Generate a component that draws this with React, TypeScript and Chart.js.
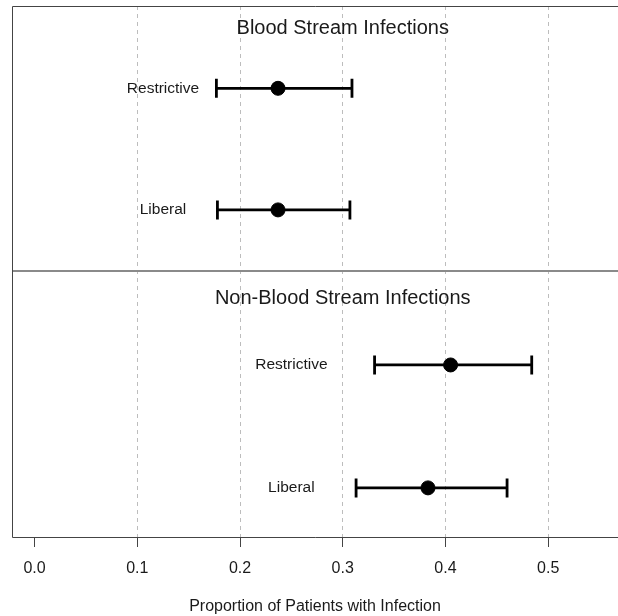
import React, { useEffect, useRef } from "react";
import { Chart, registerables } from "chart.js";

Chart.register(...registerables);

// ---- data ----
const panelTitles = ["Blood Stream Infections", "Non-Blood Stream Infections"];
const groups = ["Restrictive", "Liberal"];
const bsiMean = [0.237, 0.237];
const bsiLower = [0.177, 0.178];
const bsiUpper = [0.309, 0.307];
const nbsiMean = [0.405, 0.383];
const nbsiLower = [0.331, 0.313];
const nbsiUpper = [0.484, 0.46];
const xTicks = [0.0, 0.1, 0.2, 0.3, 0.4, 0.5];
const xTitle = "Proportion of Patients with Infection";

// ---- layout constants (not data) ----
const rowPos = [
  [0.31, 0.768],
  [0.352, 0.815],
]; // within a panel (0..1, top→bottom)
const titlePos = [0.084, 0.1];
const titleX = 0.3;
const labelX = [0.125, 0.25];
const FONT = "'Liberation Sans', Arial, Helvetica, sans-serif";

const means = [bsiMean, nbsiMean];
const lowers = [bsiLower, nbsiLower];
const uppers = [bsiUpper, nbsiUpper];

export default function App() {
  const ref = useRef<HTMLCanvasElement>(null);
  useEffect(() => {
    if (!ref.current) return;
    const points: { x: number; y: number }[] = [];
    means.forEach((m, p) =>
      m.forEach((v, g) => points.push({ x: v, y: p + rowPos[p][g] }))
    );

    const plugin = {
      id: "forest",
      beforeDatasetsDraw(chart: any) {
        const { ctx, chartArea, scales } = chart;
        const xs = scales.x;
        const ys = scales.y;
        const W = chart.width;
        ctx.save();
        // panel divider
        const yd = Math.floor(ys.getPixelForValue(1));
        ctx.strokeStyle = "#8a8a8a";
        ctx.lineWidth = 2;
        ctx.beginPath();
        ctx.moveTo(chartArea.left, yd);
        ctx.lineTo(W, yd);
        ctx.stroke();
        // frame: left, top, bottom
        ctx.strokeStyle = "#444";
        ctx.lineWidth = 1;
        ctx.beginPath();
        ctx.moveTo(W, chartArea.top + 0.5);
        ctx.lineTo(chartArea.left + 0.5, chartArea.top + 0.5);
        ctx.lineTo(chartArea.left + 0.5, chartArea.bottom + 0.5);
        ctx.lineTo(W, chartArea.bottom + 0.5);
        ctx.stroke();
        // error bars
        ctx.strokeStyle = "#000";
        ctx.lineWidth = 2.8;
        ctx.lineCap = "butt";
        means.forEach((m, p) =>
          m.forEach((_, g) => {
            const y = ys.getPixelForValue(p + rowPos[p][g]);
            const x1 = xs.getPixelForValue(lowers[p][g]);
            const x2 = xs.getPixelForValue(uppers[p][g]);
            ctx.beginPath();
            ctx.moveTo(x1, y);
            ctx.lineTo(x2, y);
            ctx.moveTo(x1, y - 9.5);
            ctx.lineTo(x1, y + 9.5);
            ctx.moveTo(x2, y - 9.5);
            ctx.lineTo(x2, y + 9.5);
            ctx.stroke();
          })
        );
        // texts
        ctx.fillStyle = "#1a1a1a";
        ctx.textAlign = "center";
        ctx.textBaseline = "middle";
        panelTitles.forEach((t, p) => {
          ctx.font = `20px ${FONT}`;
          ctx.fillText(t, xs.getPixelForValue(titleX), ys.getPixelForValue(p + titlePos[p]));
          ctx.font = `15.5px ${FONT}`;
          groups.forEach((gname, g) => {
            ctx.fillText(
              gname,
              xs.getPixelForValue(labelX[p]),
              ys.getPixelForValue(p + rowPos[p][g])
            );
          });
        });
        ctx.restore();
      },
    };

    const chart = new Chart(ref.current, {
      type: "scatter",
      data: {
        datasets: [
          {
            data: points,
            pointRadius: 7,
            pointHoverRadius: 7,
            backgroundColor: "#000",
            borderColor: "#000",
            clip: false,
          },
        ],
      },
      options: {
        animation: false,
        responsive: false,
        events: [],
        layout: { autoPadding: false, padding: { left: 12, top: 6, right: 0, bottom: 0 } },
        plugins: { legend: { display: false }, tooltip: { enabled: false } },
        scales: {
          x: {
            type: "linear",
            min: -0.022,
            max: 0.568,
            afterBuildTicks: (s: any) => {
              s.ticks = xTicks.map((v) => ({ value: v }));
            },
            afterFit: (s: any) => {
              s.height = 79;
            },
            border: { display: false, dash: [4, 4] },
            grid: {
              color: (c: any) =>
                c.tick && c.tick.value === 0 ? "rgba(0,0,0,0)" : "#bdbdbd",
              lineWidth: 1,
              tickColor: "#444",
              tickLength: 10,
              tickWidth: 1,
              tickBorderDash: [],
            },
            ticks: {
              color: "#1a1a1a",
              font: { family: FONT, size: 16 },
              padding: 12,
              maxRotation: 0,
              callback: (v: any) => Number(v).toFixed(1),
            },
            title: {
              display: true,
              text: xTitle,
              color: "#1a1a1a",
              font: { family: FONT, size: 16 },
              padding: { top: 0, bottom: 0 },
            },
          },
          y: {
            type: "linear",
            min: 0,
            max: 2,
            reverse: true,
            display: false,
          },
        },
      },
      plugins: [plugin],
    });
    return () => chart.destroy();
  }, []);

  return (
    <div style={{ position: "fixed", left: 0, top: 0, width: 618, height: 616, background: "#fff" }}>
      <canvas ref={ref} width={618} height={616} />
    </div>
  );
}
